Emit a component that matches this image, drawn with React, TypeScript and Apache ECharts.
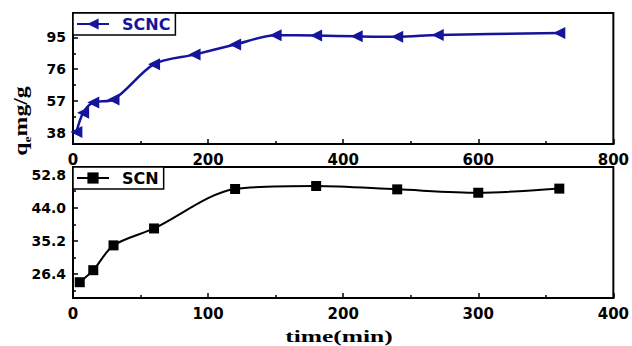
import React, { useEffect, useRef } from 'react';
import * as echarts from 'echarts';

// SCNC (top panel)
const time1 = [5, 15, 30, 60, 120, 180, 240, 300, 360, 420, 480, 540, 720];
const scnc = [38.5, 50, 56.2, 57.9, 79, 84.7, 90.7, 96.2, 96.1, 95.6, 95.3, 96.4, 97.6];
// SCN (bottom panel)
const time2 = [5, 15, 30, 60, 120, 180, 240, 300, 360];
const scn = [24.2, 27.4, 34.0, 38.5, 49.0, 49.8, 48.9, 48.0, 49.1];

const topYTicks = [38, 57, 76, 95];
const topYMinor = [47.5, 66.5, 85.5, 104.5];
const botYTicks = [26.4, 35.2, 44.0, 52.8];
const botYMinor = [22.0, 30.8, 39.6, 48.4];

const BLUE = '#15159c';
const SANS = 'DejaVu Sans';
const SERIF = 'Liberation Serif';

function xAxisCfg(gridIndex: number, max: number, interval: number) {
  return {
    type: 'value',
    gridIndex,
    min: 0,
    max,
    interval,
    axisLine: { show: true, onZero: false, lineStyle: { color: '#000', width: 2 } },
    axisTick: { show: true, inside: true, length: 5, lineStyle: { color: '#000', width: 1.5 } },
    minorTick: { show: true, splitNumber: 2, length: 3, lineStyle: { color: '#000', width: 1.5 } },
    axisLabel: {
      color: '#000', fontFamily: SANS, fontWeight: 'bold', fontSize: 15, margin: 8,
      showMinLabel: true, showMaxLabel: true,
    },
    splitLine: { show: false },
    minorSplitLine: { show: false },
  };
}

function yAxisCfg(gridIndex: number, min: number, max: number, ticks: number[], digits: number) {
  return {
    type: 'value',
    gridIndex,
    min,
    max,
    axisLine: { show: true, onZero: false, lineStyle: { color: '#000', width: 2 } },
    axisTick: { show: true, inside: true, length: 5, customValues: ticks, lineStyle: { color: '#000', width: 1.5 } },
    axisLabel: {
      color: '#000', fontFamily: SANS, fontWeight: 'bold', fontSize: 14, margin: 7,
      customValues: ticks,
      formatter: (v: number) => v.toFixed(digits),
    },
    splitLine: { show: false },
  };
}

function yMinorCfg(gridIndex: number, min: number, max: number, ticks: number[]) {
  return {
    type: 'value',
    gridIndex,
    position: 'left',
    min,
    max,
    axisLine: { show: false },
    axisTick: { show: true, inside: true, length: 3, customValues: ticks, lineStyle: { color: '#000', width: 1.5 } },
    axisLabel: { show: false },
    splitLine: { show: false },
  };
}

function legendCfg(top: number, name: string, color: string) {
  return {
    data: [name],
    left: 73,
    top,
    orient: 'horizontal',
    borderColor: '#000',
    borderWidth: 1.5,
    padding: [3, 5, 3, 3],
    itemWidth: 32,
    itemHeight: 14,
    textStyle: { color, fontFamily: SANS, fontWeight: 'bold', fontSize: 16, padding: [0, 0, 0, 8] },
    backgroundColor: '#fff',
  };
}

export default function App() {
  const ref = useRef<HTMLDivElement>(null);
  useEffect(() => {
    const chart = echarts.init(ref.current!, null, { renderer: 'svg' });
    const option = {
      animation: false,
      backgroundColor: '#fff',
      grid: [
        { left: 73, top: 13, width: 542, height: 131, show: true, borderColor: '#000', borderWidth: 2, backgroundColor: 'transparent' },
        { left: 73, top: 167, width: 542, height: 131, show: true, borderColor: '#000', borderWidth: 2, backgroundColor: 'transparent' },
      ],
      xAxis: [xAxisCfg(0, 800, 200), xAxisCfg(1, 400, 100)],
      yAxis: [
        yAxisCfg(0, 31.4, 109.5, topYTicks, 0),
        yMinorCfg(0, 31.4, 109.5, topYMinor),
        yAxisCfg(1, 20.0, 54.85, botYTicks, 1),
        yMinorCfg(1, 20.0, 54.85, botYMinor),
      ],
      legend: [legendCfg(13, 'SCNC', BLUE), legendCfg(167, 'SCN', '#000')],
      series: [
        {
          name: 'SCNC',
          type: 'line',
          xAxisIndex: 0,
          yAxisIndex: 0,
          data: time1.map((t, i) => [t, scnc[i]]),
          smooth: 0.3,
          symbol: 'triangle',
          symbolRotate: 90,
          symbolSize: 12,
          lineStyle: { color: BLUE, width: 2.5 },
          itemStyle: { color: BLUE },
        },
        {
          name: 'SCN',
          type: 'line',
          xAxisIndex: 1,
          yAxisIndex: 2,
          data: time2.map((t, i) => [t, scn[i]]),
          smooth: 0.3,
          symbol: 'rect',
          symbolSize: 10,
          lineStyle: { color: '#000', width: 2 },
          itemStyle: { color: '#000' },
        },
      ],
      graphic: [
        {
          type: 'text',
          x: 339,
          y: 337,
          scaleX: 1.5,
          style: {
            text: 'time(min)',
            fontFamily: SERIF,
            fontWeight: 'bold',
            fontSize: 17,
            fill: '#000',
            align: 'center',
            verticalAlign: 'middle',
          },
        },
        {
          type: 'text',
          x: 21,
          y: 121,
          rotation: Math.PI / 2,
          scaleX: 1.25,
          style: {
            text: '{a|q}{b|e}{a|mg/g}',
            align: 'center',
            verticalAlign: 'middle',
            fill: '#000',
            rich: {
              a: { fontFamily: SERIF, fontWeight: 'bold', fontSize: 19, lineHeight: 24, verticalAlign: 'middle', fill: '#000' },
              b: { fontFamily: SERIF, fontWeight: 'bold', fontSize: 11, lineHeight: 24, verticalAlign: 'bottom', fill: '#000' },
            },
          },
        },
      ],
    };
    chart.setOption(option as any);
    return () => chart.dispose();
  }, []);
  return <div ref={ref} style={{ position: 'fixed', left: 0, top: 0, width: 632, height: 346 }} />;
}
